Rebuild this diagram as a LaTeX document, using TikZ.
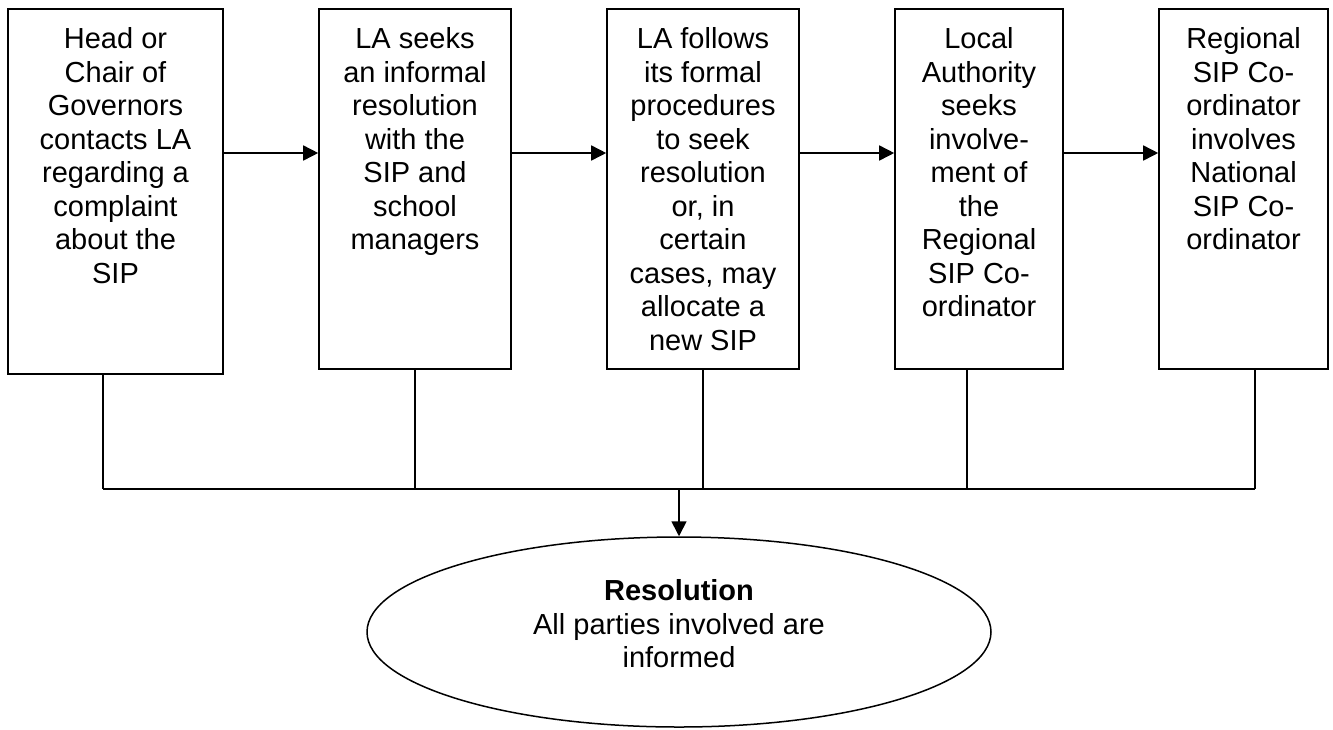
\documentclass[tikz,border=0pt]{standalone}
\usepackage{fontspec}
\setmainfont{Liberation Sans}
\usetikzlibrary{arrows.meta,shapes.geometric}
\begin{document}
\begin{tikzpicture}[x=1pt,y=-1pt,
  stepbox/.style={draw,line width=1.6pt,rectangle,inner sep=0pt},
  boxtext/.style={anchor=north,inner sep=0pt,align=center,font=\fontsize{29}{33.5}\selectfont},
  conn/.style={line width=1.6pt},
  arr/.style={line width=1.6pt,-{Triangle[length=15pt,width=15pt]}}]
\useasboundingbox (0,0) rectangle (1333,729);
\fill[white] (0,0) rectangle (1333,729);
% boxes
\node[stepbox,minimum width=215pt,minimum height=365pt] (b1) at (115.5,191.5) {};
\node[stepbox,minimum width=192pt,minimum height=360pt] (b2) at (415,189) {};
\node[stepbox,minimum width=192pt,minimum height=360pt] (b3) at (703,189) {};
\node[stepbox,minimum width=168pt,minimum height=360pt] (b4) at (979,189) {};
\node[stepbox,minimum width=169pt,minimum height=360pt] (b5) at (1243.5,189) {};
% texts
\node[boxtext] (t1) at (115.5,27.5) {Head or\\Chair of\\Governors\\contacts LA\\regarding a\\complaint\\about the\\SIP};
\node[boxtext] (t2) at (415,27.5) {LA seeks\\an informal\\resolution\\with the\\SIP and\\school\\managers};
\node[boxtext] (t3) at (703,27.5) {LA follows\\its formal\\procedures\\to seek\\resolution\\or, in\\certain\\cases, may\\allocate a\\new SIP};
\node[boxtext] (t4) at (979,27.5) {Local\\Authority\\seeks\\involve-\\ment of\\the\\Regional\\SIP Co-\\ordinator};
\node[boxtext] (t5) at (1243.5,27.5) {Regional\\SIP Co-\\ordinator\\involves\\National\\SIP Co-\\ordinator};
% horizontal arrows
\coordinate (ya) at (0,153);
\draw[arr] (b1.east |- ya) -- (b2.west |- ya);
\draw[arr] (b2.east |- ya) -- (b3.west |- ya);
\draw[arr] (b3.east |- ya) -- (b4.west |- ya);
\draw[arr] (b4.east |- ya) -- (b5.west |- ya);
% collector
\coordinate (j1) at (103,489);
\coordinate (j2) at (415,489);
\coordinate (j3) at (703,489);
\coordinate (j4) at (967,489);
\coordinate (j5) at (1255,489);
\coordinate (jm) at (679,489);
\draw[conn] (b1.south -| j1) -- (j1);
\draw[conn] (b2.south -| j2) -- (j2);
\draw[conn] (b3.south -| j3) -- (j3);
\draw[conn] (b4.south -| j4) -- (j4);
\draw[conn] (b5.south -| j5) -- (j5);
\draw[conn] (j1) -- (j5);
% ellipse
\node[ellipse,draw,line width=1.5pt,minimum width=624pt,minimum height=190pt,inner sep=0pt] (res) at (679,632) {};
\node[inner sep=0pt,align=center,font=\fontsize{29}{33.5}\selectfont] (rt) at (679,624) {\textbf{Resolution}\\All parties involved are\\informed};
\draw[arr] (jm) -- (res.north);
\end{tikzpicture}
\end{document}
